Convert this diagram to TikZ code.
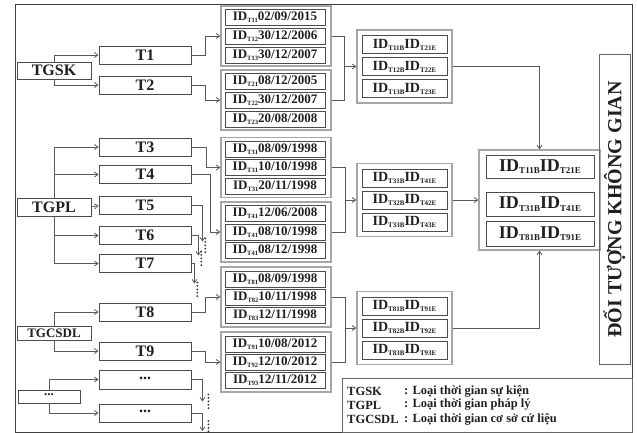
\documentclass[tikz,border=0pt]{standalone}
\usepackage{fontspec}
\setmainfont{Liberation Serif}
\usetikzlibrary{arrows.meta}
\newcommand{\fs}[1]{\fontsize{#1}{#1}\selectfont}
\newcommand{\ida}[2]{ID\raisebox{-1.8pt}{\fs{6.5}#1}#2}
\newcommand{\idb}[2]{ID\raisebox{-2pt}{\fs{7}#1}ID\raisebox{-2pt}{\fs{7}#2}}
\newcommand{\idc}[2]{ID\raisebox{-2.5pt}{\fs{9}#1}ID\raisebox{-2.5pt}{\fs{9}#2}}
\begin{document}
\begin{tikzpicture}[x=1pt,y=-1pt,
  every node/.style={text=black!88},
  box/.style={draw=black!70, line width=0.9pt, fill=white, inner sep=0pt, font=\bfseries\fs{16}},
  tbox/.style={box, minimum width=92pt, minimum height=18pt},
  cbox/.style={box, minimum width=74pt, minimum height=17pt},
  grp/.style={draw=black!35, line width=1.2pt, minimum width=110pt, minimum height=60pt, inner sep=0pt},
  row/.style={draw=black!70, line width=0.9pt, minimum width=100pt, minimum height=16pt, inner sep=0pt, font=\bfseries\fs{13}},
  rgrp/.style={draw=black!35, line width=1.2pt, minimum width=95pt, minimum height=73pt, inner sep=0pt},
  rrow/.style={draw=black!70, line width=0.9pt, minimum width=85pt, minimum height=18pt, inner sep=0pt, font=\bfseries\fs{14}},
  frow/.style={draw=black!70, line width=0.9pt, minimum width=108pt, minimum height=23pt, inner sep=0pt, font=\bfseries\fs{18}},
  ln/.style={draw=black!65, line width=0.8pt},
  arr/.style={ln, -{Straight Barb[length=3.5pt,width=5pt]}},
  dotl/.style={draw=black!80, line width=2pt, line cap=round, dash pattern=on 0pt off 3.4pt},
  legt/.style={anchor=west, inner sep=0pt, font=\bfseries\fs{12.5}},
]
\useasboundingbox (0,0) rectangle (637,433);
\draw[draw=black!75, line width=0.9pt] (15,4) rectangle (632,432);

% categories
\node[cbox] (tgsk) at (54,70.5) {TGSK};
\node[cbox, minimum height=18pt] (tgpl) at (54,207) {TGPL};
\node[cbox, minimum height=14pt, font=\bfseries\fs{13}] (tgcsdl) at (54,333) {TGCSDL};
\node[cbox, minimum width=62pt, minimum height=13pt, font=\bfseries\fs{13}] (dd) at (49,396.5) {\raisebox{3pt}{...}};

% T boxes
\node[tbox] (t1) at (145,55) {T1};
\node[tbox] (t2) at (145,85) {T2};
\node[tbox] (t3) at (145,147) {T3};
\node[tbox] (t4) at (145,174.5) {T4};
\node[tbox] (t5) at (145,205.5) {T5};
\node[tbox] (t6) at (145,235.5) {T6};
\node[tbox] (t7) at (145,263.5) {T7};
\node[tbox] (t8) at (145,312) {T8};
\node[tbox] (t9) at (145,351) {T9};
\node[tbox, minimum height=19pt] (d1) at (145,379.5) {\raisebox{3pt}{...}};
\node[tbox] (d2) at (145,413) {\raisebox{3pt}{...}};

% category connectors
\draw[arr] (tgsk.north) |- (t1.west);
\draw[arr] (tgsk.south) |- (t2.west);
\draw[arr] (tgpl.north) |- (t3.west);
\draw[arr] (tgpl.north) |- (t4.west);
\draw[arr] (tgpl.east) -- (t5.west);
\draw[arr] (tgpl.south) |- (t6.west);
\draw[arr] (tgpl.south) |- (t7.west);
\draw[arr] (tgcsdl.north) |- (t8.west);
\draw[arr] (tgcsdl.south) |- (t9.west);
\draw[arr] (dd.north) |- (d1.west);
\draw[arr] (dd.south) |- (d2.west);

% ID groups
\node[grp] (g1) at (276,36) {};
\node[row] (g1a) at (275,17) {\ida{T11}{02/09/2015}};
\node[row] (g1b) at (275,36) {\ida{T12}{30/12/2006}};
\node[row] (g1c) at (275,55) {\ida{T13}{30/12/2007}};
\node[grp] (g2) at (276,100) {};
\node[row] (g2a) at (275,81) {\ida{T21}{08/12/2005}};
\node[row] (g2b) at (275,100) {\ida{T22}{30/12/2007}};
\node[row] (g2c) at (275,119) {\ida{T23}{20/08/2008}};
\node[grp] (g3) at (276,167.5) {};
\node[row] (g3a) at (275,149) {\ida{T31}{08/09/1998}};
\node[row] (g3b) at (275,167.5) {\ida{T31}{10/10/1998}};
\node[row] (g3c) at (275,186) {\ida{T31}{20/11/1998}};
\node[grp] (g4) at (276,232) {};
\node[row] (g4a) at (275,213.5) {\ida{T41}{12/06/2008}};
\node[row] (g4b) at (275,232) {\ida{T41}{08/10/1998}};
\node[row] (g4c) at (275,250.5) {\ida{T41}{08/12/1998}};
\node[grp] (g8) at (276,297) {};
\node[row] (g8a) at (275,279) {\ida{T81}{08/09/1998}};
\node[row] (g8b) at (275,297) {\ida{T82}{10/11/1998}};
\node[row] (g8c) at (275,315.5) {\ida{T83}{12/11/1998}};
\node[grp] (g9) at (276,362) {};
\node[row] (g9a) at (275,344) {\ida{T91}{10/08/2012}};
\node[row] (g9b) at (275,362.5) {\ida{T92}{12/10/2012}};
\node[row] (g9c) at (275,380.5) {\ida{T93}{12/11/2012}};

% T -> groups
\draw[arr] (t1.east) -- ++(14,0) |- (g1.west);
\draw[arr] (t2.east) -- ++(14,0) |- (g2.west);
\draw[arr] (t3.east) -- ++(15,0) |- (g3.west);
\draw[arr] (t4.east) -- ++(19,0) |- (g4.west);
\draw[arr] (t8.east) -- ++(14,0) |- (g8.west);
\draw[arr] (t9.east) -- ++(14,0) |- (g9.west);

% dangling arrows
\draw[arr] (t5.east) -| ++(11,36) coordinate (e5);
\draw[dotl] (e5) ++(2.8,-3) -- ++(0,16);
\draw[arr] (t6.east) -| ++(7,20) coordinate (e6);
\draw[dotl] (e6) ++(2.8,-4) -- ++(0,14);
\draw[arr] (t7.east) -| ++(3,20) coordinate (e7);
\draw[dotl] (e7) ++(2.8,-1) -- ++(0,15);
\draw[arr] (d1.east) -| ++(11,22) coordinate (e8);
\draw[dotl] (e8) ++(6,-7) -- ++(0,16);
\draw[arr] (d2.east) -| ++(11,18) coordinate (e9);
\draw[dotl] (e9) ++(6,-10) -- ++(0,12);

% result groups
\node[rgrp] (r1) at (404.5,66.5) {};
\node[rrow] (r1a) at (404.5,44.5) {\idb{T11B}{T21E}};
\node[rrow] (r1b) at (404.5,66.5) {\idb{T12B}{T22E}};
\node[rrow] (r1c) at (404.5,88.5) {\idb{T13B}{T23E}};
\node[rgrp] (r2) at (404.5,200) {};
\node[rrow] (r2a) at (404.5,178) {\idb{T31B}{T41E}};
\node[rrow] (r2b) at (404.5,200) {\idb{T32B}{T42E}};
\node[rrow] (r2c) at (404.5,222) {\idb{T33B}{T43E}};
\node[rgrp] (r3) at (404.5,328) {};
\node[rrow] (r3a) at (404.5,306) {\idb{T81B}{T91E}};
\node[rrow] (r3b) at (404.5,328) {\idb{T82B}{T92E}};
\node[rrow] (r3c) at (404.5,350) {\idb{T83B}{T93E}};

% brackets
\draw[ln] (g1.east) -- ++(13,0) coordinate (b1) |- (g2.east);
\draw[arr] (b1 |- r1.west) -- (r1.west);
\draw[ln] (g3.east) -- ++(14,0) coordinate (b2) |- (g4.east);
\draw[arr] (b2 |- r2.west) -- (r2.west);
\draw[ln] (g8.east) -- ++(14,0) coordinate (b3) |- (g9.east);
\draw[arr] (b3 |- r3.west) -- (r3.west);

% final group
\node[draw=black!35, line width=1.2pt, minimum width=121pt, minimum height=100pt, inner sep=0pt] (fg) at (539.5,200) {};
\node[frow] (fa) at (540,166.5) {\idc{T11B}{T21E}};
\node[frow, minimum height=24pt] (fb) at (540,204) {\idc{T31B}{T41E}};
\node[frow, minimum height=25pt] (fc) at (540,233.5) {\idc{T81B}{T91E}};

\draw[arr] (r1.east) -| (fg.north);
\draw[arr] (r2.east) -- (fg.west);
\draw[arr] (r3.east) -| (fg.south);

% vertical title
\node[draw=black!60, line width=1pt, rotate=90, minimum width=309pt, minimum height=31pt, inner sep=0pt, font=\bfseries\fs{20}] (dt) at (614.5,209.5) {ĐỐI TƯỢNG KHÔNG GIAN};

% legend
\node[draw=black!60, line width=1pt, minimum width=290pt, minimum height=54pt, inner sep=0pt] (leg) at (487,405) {};
\node[legt] (l1) at (347,391) {TGSK};
\node[legt] (l2) at (347,405) {TGPL};
\node[legt] (l3) at (347,419) {TGCSDL};
\node[legt] (l1d) at (404,391) {: Loại thời gian sự kiện};
\node[legt] (l2d) at (404,405) {: Loại thời gian pháp lý};
\node[legt] (l3d) at (404,419) {: Loại thời gian cơ sở cứ liệu};
\end{tikzpicture}
\end{document}
